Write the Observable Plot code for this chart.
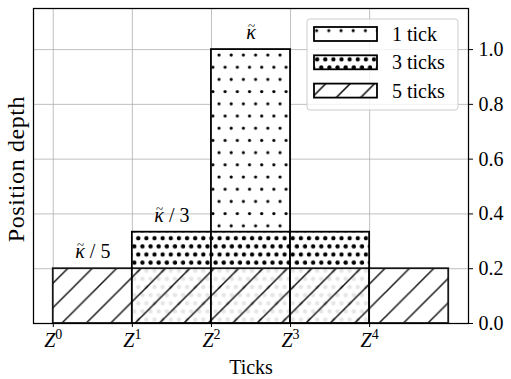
<!DOCTYPE html>
<html>
<head>
<meta charset="utf-8">
<script src="https://cdn.jsdelivr.net/npm/d3@7"></script>
<script src="https://cdn.jsdelivr.net/npm/@observablehq/plot@0.6"></script>
<style>
  html, body { margin: 0; padding: 0; background: #fff; }
  #chart svg { display: block; }
</style>
</head>
<body>
<div id="chart"></div>
<script>
// Each series fills a run of consecutive ticks at a constant position depth
const series = ["1 tick", "3 ticks", "5 ticks"];
const firstTick = [2, 1, 0];
const tickCount = [1, 3, 5];
const depth = [1, 1 / 3, 1 / 5];
const depthLabels = ["κ̃", "κ̃ / 3", "κ̃ / 5"];
const patternIds = ["dots-sparse", "dots-dense", "hatch"];
const xTicks = [0, 1, 2, 3, 4];
const xTickExponents = ["0", "1", "2", "3", "4"];
const yTicks = [0, 0.2, 0.4, 0.6, 0.8, 1.0];
const xLabel = "Ticks";
const yLabel = "Position depth";

const FONT = "'Liberation Serif', 'DejaVu Serif', serif";

// one cell per tick covered by a series
const cells = series.flatMap((s, i) =>
  d3.range(tickCount[i]).map(k => ({series: s, i, tick: firstTick[i] + k, depth: depth[i]}))
);
const labelRows = series.map((s, i) => ({x: firstTick[i] + 0.5, y: depth[i], text: depthLabels[i]}));

const barMark = (i, extra = {}) => Plot.rect(cells.filter(d => d.i === i), {
  x1: "tick", x2: d => d.tick + 1, y1: 0, y2: "depth",
  fill: `url(#${patternIds[i]})`, stroke: "black", strokeWidth: 1.8, ...extra
});

const svgEl = Plot.plot({
  width: 511, height: 379,
  marginLeft: 33, marginRight: 43, marginTop: 8, marginBottom: 56,
  x: {domain: [-0.25, 5.25]},
  y: {domain: [0, 1.15]},
  style: {fontFamily: FONT, fontSize: "20px", color: "black", background: "white"},
  marks: [
    Plot.gridX(xTicks, {stroke: "#b0b0b0", strokeOpacity: 1, strokeWidth: 0.8}),
    Plot.gridY(yTicks, {stroke: "#b0b0b0", strokeOpacity: 1, strokeWidth: 0.8}),
    barMark(0),
    barMark(1),
    barMark(2, {opacity: 0.9}),
    Plot.text(labelRows, {x: "x", y: "y", text: "text", dy: -17, fontSize: 20}),
    Plot.frame({stroke: "black", strokeWidth: 1.25}),
    Plot.axisX(xTicks, {tickSize: 4, tickPadding: 5, tickFormat: d => "Z" + xTickExponents[d], label: null, fontSize: 20}),
    Plot.axisY(yTicks, {anchor: "right", tickSize: 4, tickPadding: 6, tickFormat: d3.format(".1f"), label: null, fontSize: 20}),
    Plot.text([xLabel], {frameAnchor: "bottom", dy: 50, text: d => d, fontSize: 20}),
    Plot.text([yLabel], {frameAnchor: "left", textAnchor: "middle", rotate: -90, dx: -17, dy: 3, text: d => d, fontSize: 24})
  ]
});

const svg = d3.select(svgEl);
svg.selectAll("text").filter(function () { return this.textContent === yLabel; })
  .attr("letter-spacing", "0.6px");

// fill patterns, anchored in page space so neighbouring cells line up
const defs = svg.insert("defs", ":first-child");
function dotPattern(id, w, h, ox, oy, dots, r) {
  const p = defs.append("pattern").attr("id", id).attr("patternUnits", "userSpaceOnUse")
    .attr("x", ox).attr("y", oy).attr("width", w).attr("height", h);
  p.append("rect").attr("width", w).attr("height", h).attr("fill", "white");
  for (const [cx, cy] of dots)
    for (const ddx of [-w, 0, w])
      for (const ddy of [-h, 0, h])
        p.append("circle").attr("cx", cx + ddx).attr("cy", cy + ddy).attr("r", r).attr("fill", "black");
}
dotPattern("dots-sparse", 12.2, 24.4, 216, 52, [[3, 3], [9.1, 15.2]], 1.6);
dotPattern("dots-dense", 8.13, 16.26, 136.3, 236.3, [[2, 2], [6.07, 10.13]], 2.15);
{
  const s = 24.4;
  const p = defs.append("pattern").attr("id", "hatch").attr("patternUnits", "userSpaceOnUse")
    .attr("x", 19).attr("y", 0).attr("width", s).attr("height", s);
  p.append("rect").attr("width", s).attr("height", s).attr("fill", "white");
  p.append("path")
    .attr("d", `M-3,${3} L3,-3 M0,${s} L${s},0 M${s - 3},${s + 3} L${s + 3},${s - 3}`)
    .attr("stroke", "black").attr("stroke-width", 1.5).attr("fill", "none");
}

// legend box in the upper right of the plot area
const lg = svg.append("g").attr("font-family", FONT).attr("font-size", 20).attr("text-anchor", "start");
lg.append("rect").attr("x", 307).attr("y", 19).attr("width", 151).attr("height", 91).attr("rx", 3)
  .attr("fill", "white").attr("fill-opacity", 0.8).attr("stroke", "#cccccc").attr("stroke-width", 1);
series.forEach((s, i) => {
  const y0 = 27 + i * 28.3;
  lg.append("rect").attr("x", 314).attr("y", y0).attr("width", 63).attr("height", 14)
    .attr("fill", `url(#${patternIds[i]})`).attr("stroke", "black").attr("stroke-width", 1.8);
  lg.append("text").attr("x", 392).attr("y", y0 + 14).attr("fill", "black").text(s);
});

document.getElementById("chart").appendChild(svgEl);

// x tick labels as Z with a raised exponent
svg.selectAll('g[aria-label="x-axis tick label"] text').each(function () {
  const t = d3.select(this);
  const s = t.text();
  t.text(null);
  t.append("tspan").attr("font-style", "italic").text(s[0]);
  t.append("tspan").attr("font-size", "0.7em").attr("dy", "-0.55em").text(s.slice(1));
});

// depth labels: italic kappa, upright divisor, and a small tilde placed as a
// separately positioned run of the same text, centred over the kappa glyph
const head = "κ̃";
svg.selectAll("text").filter(function () { return this.textContent.startsWith(head); }).each(function () {
  const node = this;
  const t = d3.select(node);
  const s = t.text();
  t.text(null);
  t.append("tspan").attr("font-style", "italic").text("κ");
  if (s.length > head.length) t.append("tspan").text(s.slice(head.length));
  const a = node.getStartPositionOfChar(0);
  const b = node.getEndPositionOfChar(0);
  t.append("tspan")
    .attr("x", (a.x + b.x) / 2 + 0.5)
    .attr("y", a.y - 9)
    .attr("font-size", 13)
    .text("~");
});
</script>
</body>
</html>
